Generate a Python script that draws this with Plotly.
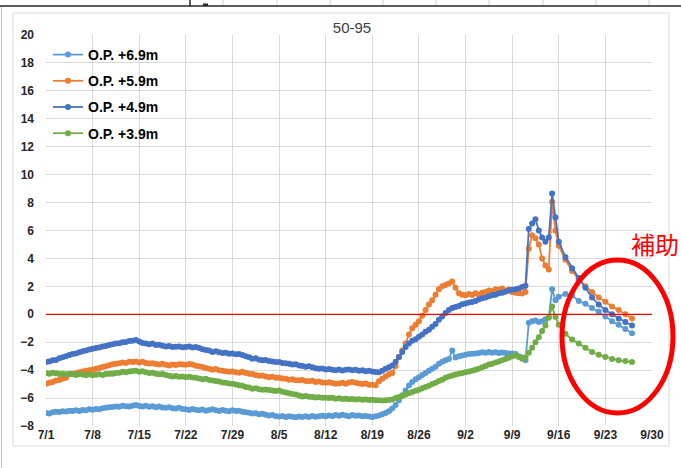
import pandas as pd
import plotly.graph_objects as go

# Observation times: 12-hourly readings until 9/15, daily readings afterwards
times_dense = pd.date_range("2023-07-01", periods=154, freq="12h")
times_daily = pd.date_range("2023-09-16", periods=12, freq="D")
times = list(times_dense) + list(times_daily)

series_names = ["O.P. +6.9m", "O.P. +5.9m", "O.P. +4.9m", "O.P. +3.9m"]

op69 = [
    -7.07, -7.1, -7.02, -6.98, -7.0, -6.95, -6.97, -6.9, -6.93, -6.88, -6.92, -6.85, -6.87, -6.8,
    -6.83, -6.78, -6.8, -6.72, -6.7, -6.66, -6.64, -6.6, -6.62, -6.55, -6.58, -6.6, -6.55, -6.5,
    -6.57, -6.6, -6.55, -6.62, -6.58, -6.65, -6.6, -6.68, -6.7, -6.65, -6.72, -6.75, -6.7, -6.78,
    -6.8, -6.85, -6.78, -6.83, -6.88, -6.82, -6.9, -6.86, -6.8, -6.88, -6.92, -6.85, -6.9, -6.95,
    -6.88, -6.92, -6.9, -6.98, -7.02, -7.05, -7.1, -7.08, -7.15, -7.12, -7.2, -7.25, -7.22, -7.3,
    -7.32, -7.28, -7.36, -7.3, -7.34, -7.38, -7.32, -7.36, -7.3, -7.35, -7.28, -7.34, -7.3, -7.26,
    -7.3, -7.25, -7.28, -7.22, -7.26, -7.2, -7.25, -7.3, -7.22, -7.26, -7.24, -7.3, -7.28, -7.32,
    -7.35, -7.3, -7.25, -7.15, -7.07, -6.95, -6.75, -6.5, -6.15, -5.8, -5.45, -5.1, -4.85, -4.65,
    -4.5, -4.35, -4.2, -4.05, -3.9, -3.75, -3.55, -3.4, -3.3, -3.2, -2.6, -3.1, -3.0, -2.95,
    -2.9, -2.85, -2.82, -2.8, -2.78, -2.72, -2.75, -2.7, -2.76, -2.72, -2.78, -2.74, -2.78, -2.8,
    -2.8, -2.85, -3.0, -3.1, -3.3, -0.6, -0.5, -0.45, -0.55, -0.5, -0.35, -0.2, 1.8, 1.0,
    1.25, 1.45, 1.35, 0.95, 0.75, 0.45, 0.2, -0.15, -0.5, -0.75, -1.05, -1.35,
]

op59 = [
    -4.97, -4.9, -4.85, -4.75, -4.7, -4.62, -4.55, -4.3, -4.25, -4.22, -4.15, -4.1, -4.05, -4.0,
    -3.97, -3.9, -3.85, -3.78, -3.72, -3.65, -3.58, -3.55, -3.5, -3.46, -3.48, -3.4, -3.42, -3.38,
    -3.45, -3.4, -3.48, -3.52, -3.5, -3.56, -3.6, -3.55, -3.62, -3.66, -3.6, -3.64, -3.58, -3.6,
    -3.62, -3.56, -3.6, -3.68, -3.72, -3.78, -3.85, -3.9, -3.97, -3.92, -4.0, -4.05, -4.08, -4.12,
    -4.1, -4.15, -4.18, -4.12, -4.2, -4.25, -4.28, -4.35, -4.4, -4.38, -4.45, -4.5, -4.48, -4.54,
    -4.55, -4.6, -4.62, -4.68, -4.65, -4.72, -4.73, -4.7, -4.78, -4.8, -4.76, -4.85, -4.82, -4.88,
    -4.9, -4.86, -4.92, -4.97, -4.95, -4.9, -4.97, -4.88, -4.85, -4.9, -4.95, -5.0, -4.96, -5.05,
    -5.05, -5.09, -4.8, -4.61, -4.45, -4.3, -4.2, -3.7, -3.06, -2.6, -2.1, -1.45, -1.0, -0.75,
    -0.5, -0.1, 0.3, 0.7, 1.0, 1.4, 1.8, 2.0, 2.1, 2.2, 2.35, 1.9, 1.5, 1.4,
    1.36, 1.45, 1.38, 1.5, 1.4, 1.55, 1.6, 1.7, 1.65, 1.8, 1.75, 1.84, 1.7, 1.78,
    1.6, 1.55, 1.5, 1.48, 1.6, 4.7, 5.66, 5.45, 5.0, 4.0, 3.5, 3.2, 8.05, 6.0,
    4.9, 3.9, 3.1, 2.5, 2.0, 1.6, 1.2, 0.9, 0.55, 0.3, 0.0, -0.3,
]

op49 = [
    -3.42, -3.38, -3.3, -3.28, -3.15, -3.08, -3.0, -2.92, -2.85, -2.8, -2.72, -2.65, -2.6, -2.52,
    -2.46, -2.42, -2.38, -2.3, -2.28, -2.2, -2.15, -2.1, -2.08, -2.0, -1.98, -1.92, -1.9, -1.85,
    -1.95, -2.05, -2.1, -2.15, -2.1, -2.2, -2.18, -2.25, -2.3, -2.28, -2.35, -2.32, -2.3, -2.36,
    -2.34, -2.3, -2.38, -2.34, -2.42, -2.5, -2.55, -2.6, -2.7, -2.65, -2.72, -2.78, -2.75, -2.82,
    -2.8, -2.86, -2.85, -2.92, -3.0, -3.08, -3.18, -3.15, -3.25, -3.3, -3.28, -3.35, -3.38, -3.42,
    -3.42, -3.48, -3.5, -3.55, -3.6, -3.58, -3.66, -3.7, -3.75, -3.72, -3.8, -3.86, -3.9, -3.88,
    -3.95, -3.92, -3.98, -4.01, -3.96, -4.02, -3.98, -3.95, -4.0, -3.97, -4.05, -4.0, -4.08, -4.05,
    -4.1, -4.13, -4.15, -4.05, -3.9, -3.8, -3.66, -3.4, -3.06, -2.7, -2.34, -2.1, -1.9, -1.78,
    -1.6, -1.45, -1.25, -1.1, -0.9, -0.7, -0.4, -0.15, 0.1, 0.3, 0.45, 0.52, 0.6, 0.72,
    0.78, 0.85, 0.88, 0.95, 1.05, 1.15, 1.2, 1.3, 1.36, 1.4, 1.5, 1.55, 1.62, 1.7,
    1.75, 1.8, 1.85, 1.95, 2.05, 6.1, 6.5, 6.8, 6.0, 5.5, 5.2, 5.5, 8.65, 6.95,
    5.2, 4.1, 3.3, 2.6, 1.9, 1.2, 0.7, 0.3, 0.0, -0.3, -0.55, -0.8,
]

op39 = [
    -4.2, -4.25, -4.18, -4.22, -4.28, -4.25, -4.3, -4.26, -4.3, -4.34, -4.28, -4.32, -4.36, -4.3,
    -4.37, -4.33, -4.3, -4.35, -4.28, -4.26, -4.25, -4.2, -4.18, -4.12, -4.15, -4.1, -4.06, -4.05,
    -4.12, -4.08, -4.15, -4.2, -4.18, -4.25, -4.3, -4.28, -4.35, -4.4, -4.45, -4.42, -4.48, -4.45,
    -4.5, -4.48, -4.52, -4.55, -4.6, -4.65, -4.62, -4.7, -4.75, -4.78, -4.82, -4.88, -4.9, -4.95,
    -4.98, -5.02, -5.09, -5.12, -5.2, -5.25, -5.33, -5.3, -5.36, -5.4, -5.38, -5.42, -5.45, -5.5,
    -5.45, -5.55, -5.6, -5.65, -5.7, -5.75, -5.82, -5.88, -5.85, -5.9, -5.92, -5.96, -5.94, -5.98,
    -5.97, -6.0, -5.98, -6.04, -6.02, -6.06, -6.04, -6.08, -6.06, -6.1, -6.08, -6.12, -6.1, -6.14,
    -6.12, -6.15, -6.16, -6.18, -6.16, -6.14, -6.1, -6.0, -5.93, -5.85, -5.75, -5.65, -5.57, -5.48,
    -5.4, -5.3, -5.2, -5.12, -5.0, -4.9, -4.78, -4.68, -4.55, -4.45, -4.38, -4.32, -4.25, -4.2,
    -4.15, -4.1, -4.05, -3.98, -3.9, -3.8, -3.7, -3.6, -3.54, -3.45, -3.38, -3.3, -3.2, -3.12,
    -3.0, -2.95, -3.05, -3.18, -3.1, -2.75, -2.4, -2.0, -1.65, -1.2, -0.8, -0.25, 0.55, -0.2,
    -0.75, -1.4, -1.8, -2.1, -2.4, -2.7, -2.9, -3.05, -3.2, -3.3, -3.35, -3.42,
]

series_values = [op69, op59, op49, op39]
series_colors = ["#5B9BD5", "#ED7D31", "#4472C4", "#70AD47"]

W, H = 681, 468
L, R, T, B = 46, 29, 35, 42
PW, PH = W - L - R, H - T - B


def px(x):
    return (x - L) / PW


def py(y):
    return (H - B - y) / PH


fig = go.Figure()
for name, vals, col in zip(series_names, series_values, series_colors):
    fig.add_trace(go.Scatter(
        x=times, y=vals, name=name, mode="lines+markers",
        legendgroup=name,
        line=dict(color=col, width=1.8),
        marker=dict(color=col, size=6),
    ))

tick_font = dict(family="Liberation Sans", size=12, color="#262626", weight="bold")

fig.update_layout(
    width=W, height=H,
    margin=dict(l=L, r=R, t=T, b=B),
    paper_bgcolor="white", plot_bgcolor="white",
    title=dict(text="50-95", xref="container", x=352 / W, xanchor="center",
               y=1 - 28 / H, yanchor="middle",
               font=dict(family="Liberation Sans", size=15, color="#404040")),
    showlegend=True,
    legend=dict(x=px(48), y=py(39), xanchor="left", yanchor="top",
                bgcolor="rgba(0,0,0,0)", tracegroupgap=5,
                font=dict(family="Liberation Sans", size=14, color="#000000", weight="bold")),
    xaxis=dict(
        type="date", range=["2023-07-01", "2023-09-30"],
        tick0="2023-07-01", dtick=7 * 24 * 3600 * 1000, tickformat="%-m/%-d",
        showgrid=True, gridcolor="#D9D9D9", gridwidth=1,
        showline=False, zeroline=False, ticks="", tickfont=tick_font,
    ),
    yaxis=dict(
        range=[-8, 20], dtick=2, tick0=0,
        showgrid=True, gridcolor="#D9D9D9", gridwidth=1,
        showline=False, zeroline=False, ticks="", tickfont=tick_font, ticklabelstandoff=11,
    ),
)

shapes = [
    # reference line at 0
    dict(type="line", xref="paper", yref="y", x0=0, x1=1, y0=0, y1=0,
         line=dict(color="#FF0000", width=1.2), layer="above"),
    # chart area border
    dict(type="rect", xref="paper", yref="paper", x0=px(13), x1=px(669), y0=py(446), y1=py(13),
         line=dict(color="#D9D9D9", width=1), layer="below"),
    # sheet edges around the chart
    dict(type="line", xref="paper", yref="paper", x0=px(0), x1=px(681), y0=py(6), y1=py(6),
         line=dict(color="#262626", width=1.5)),
    dict(type="line", xref="paper", yref="paper", x0=px(1.5), x1=px(1.5), y0=py(468), y1=py(7),
         line=dict(color="#BFBFBF", width=1)),
    dict(type="line", xref="paper", yref="paper", x0=px(190), x1=px(190), y0=py(6), y1=py(0),
         line=dict(color="#262626", width=1.5)),
    dict(type="rect", xref="paper", yref="paper", x0=px(203), x1=px(208), y0=py(6), y1=py(3.5),
         line=dict(width=0), fillcolor="#262626"),
]
for gx in [223, 277, 330, 383, 436, 489, 543, 596, 649]:
    shapes.append(dict(type="line", xref="paper", yref="paper", x0=px(gx), x1=px(gx),
                       y0=py(5), y1=py(0), line=dict(color="#D0D0D0", width=1)))
# highlight ellipse
shapes.append(dict(type="circle", xref="paper", yref="paper",
                   x0=px(562), x1=px(673), y0=py(413), y1=py(260),
                   line=dict(color="#FF0000", width=5), layer="above"))
fig.update_layout(shapes=shapes)

fig.add_annotation(
    text="補助", xref="paper", yref="paper", x=px(629), y=py(243),
    xanchor="left", yanchor="middle", showarrow=False,
    font=dict(family="Noto Sans CJK JP", size=24, color="#FF0000"),
)

fig.write_html("out.html")
